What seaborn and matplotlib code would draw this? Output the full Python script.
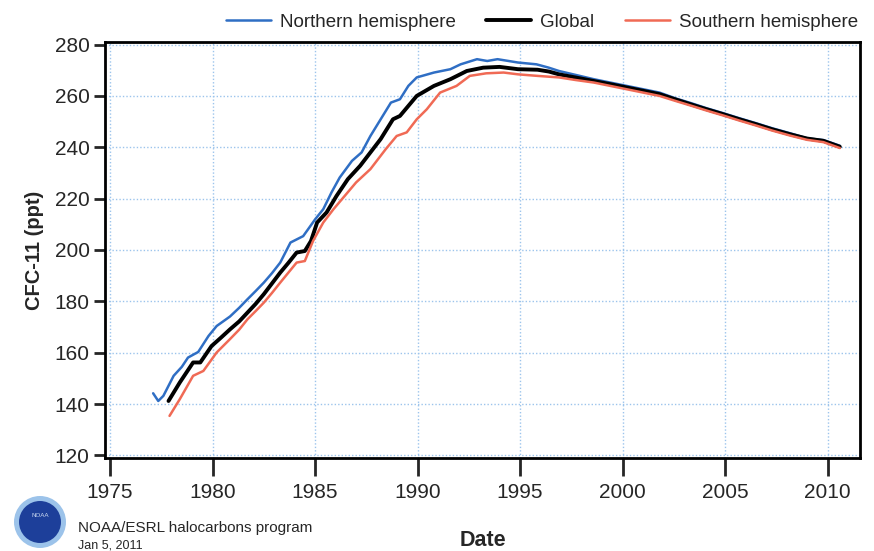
import pandas as pd
import matplotlib.pyplot as plt
import seaborn as sns
from matplotlib.patches import Ellipse

# ===== Данные =====
nh_years = [1977.1, 1977.35, 1977.6, 1978.1, 1978.5, 1978.8, 1979.3, 1979.8, 1980.2, 1980.85,
            1981.3, 1981.7, 1982.1, 1982.5, 1982.9, 1983.3, 1983.8, 1984.42, 1985.0, 1985.4,
            1985.8, 1986.2, 1986.8, 1987.27, 1987.7, 1988.2, 1988.7, 1989.14, 1989.55, 1989.96,
            1990.8, 1991.6, 1992.1, 1992.9, 1993.4, 1993.9, 1994.9, 1995.8, 1996.4, 1996.9,
            1997.7, 1998.6, 1999.4, 2000.2, 2001.0, 2001.8, 2002.6, 2003.3, 2004.1, 2004.9,
            2005.7, 2006.5, 2007.3, 2008.2, 2009.0, 2009.8, 2010.6]
nh_cfc = [144.2, 141.2, 143.2, 151.0, 154.5, 158.1, 160.3, 166.5, 170.4, 174.1,
          177.5, 180.8, 184.0, 187.3, 191.0, 195.1, 202.9, 205.4, 211.9, 215.9,
          222.4, 228.2, 234.7, 238.0, 244.4, 250.9, 257.4, 258.7, 263.9, 267.2,
          269.1, 270.4, 272.3, 274.3, 273.6, 274.3, 273.0, 272.3, 271.0, 269.7,
          268.2, 266.5, 265.2, 263.9, 262.6, 261.3, 259.0, 257.3, 255.2, 253.3,
          251.3, 249.4, 247.4, 245.4, 243.5, 242.8, 240.6]

gl_years = [1977.85, 1978.4, 1979.05, 1979.4, 1979.95, 1980.4, 1980.85, 1981.3, 1981.7, 1982.1,
            1982.5, 1982.9, 1983.3, 1983.7, 1984.1, 1984.5, 1984.8, 1985.1, 1985.56, 1986.05,
            1986.6, 1987.2, 1987.7, 1988.2, 1988.8, 1989.14, 1989.96, 1990.8, 1991.6, 1992.4,
            1993.2, 1994.0, 1994.9, 1995.85, 1996.4, 1996.9, 1997.7, 1998.6, 1999.4, 2000.2,
            2001.0, 2001.8, 2002.6, 2003.3, 2004.1, 2004.9, 2005.7, 2006.5, 2007.3, 2008.2,
            2009.0, 2009.8, 2010.6]
gl_cfc = [141.2, 148.4, 156.2, 156.2, 162.6, 165.8, 169.1, 172.2, 175.6, 179.0,
          182.8, 187.0, 191.2, 195.0, 199.0, 199.6, 203.5, 210.7, 214.6, 221.1,
          227.6, 232.8, 238.0, 243.2, 250.9, 252.2, 260.0, 263.9, 266.5, 269.7,
          271.0, 271.3, 270.4, 270.2, 269.5, 268.4, 267.2, 265.8, 264.6, 263.3,
          262.0, 260.7, 258.6, 256.8, 254.8, 252.9, 250.9, 249.0, 247.0, 245.0,
          243.4, 242.5, 240.2]

sh_years = [1977.9, 1978.4, 1979.05, 1979.55, 1980.2, 1980.85, 1981.3, 1981.7, 1982.1, 1982.5,
            1982.9, 1983.3, 1983.7, 1984.1, 1984.5, 1984.9, 1985.4, 1985.9, 1986.45, 1987.0,
            1987.7, 1988.45, 1988.98, 1989.47, 1989.96, 1990.45, 1991.1, 1991.9, 1992.55, 1993.35,
            1994.2, 1994.9, 1995.85, 1996.9, 1997.7, 1998.6, 1999.4, 2000.2, 2001.0, 2001.8,
            2002.6, 2003.3, 2004.1, 2004.9, 2005.7, 2006.5, 2007.3, 2008.2, 2009.0, 2009.8,
            2010.6]
sh_cfc = [135.4, 141.9, 151.0, 152.9, 160.1, 165.3, 169.0, 173.0, 176.2, 179.5,
          183.3, 187.3, 191.2, 195.1, 195.7, 203.5, 210.7, 215.9, 221.1, 226.3,
          231.5, 239.3, 244.4, 245.8, 250.9, 254.8, 261.3, 263.9, 267.8, 268.8,
          269.1, 268.4, 267.8, 267.2, 266.2, 265.2, 263.9, 262.6, 261.3, 260.0,
          258.0, 256.3, 254.3, 252.4, 250.4, 248.5, 246.5, 244.5, 242.9, 242.0,
          239.7]

x_ticks = [1975, 1980, 1985, 1990, 1995, 2000, 2005, 2010]
y_ticks = [120, 140, 160, 180, 200, 220, 240, 260, 280]

sns.set_style("white")
plt.rcParams["font.family"] = ["Liberation Sans", "DejaVu Sans"]

fig = plt.figure(figsize=(8.74, 5.51), dpi=100)
ax = fig.add_axes([0.1201, 0.1688, 0.8638, 0.755])

sns.lineplot(x=nh_years, y=nh_cfc, ax=ax, color="#2f6ec4", linewidth=1.8, label="Northern hemisphere")
sns.lineplot(x=gl_years, y=gl_cfc, ax=ax, color="black", linewidth=2.8, label="Global")
sns.lineplot(x=sh_years, y=sh_cfc, ax=ax, color="#f06a55", linewidth=1.8, label="Southern hemisphere")

ax.set_xlim(1974.75, 2011.58)
ax.set_ylim(119.0, 281.0)
ax.set_xticks(x_ticks)
ax.set_yticks(y_ticks)
ax.grid(True, color="#9cc4ec", linestyle=(0, (1, 1.5)), linewidth=1.0)

for sp in ax.spines.values():
    sp.set_visible(True)
    sp.set_color("black")
    sp.set_linewidth(2.0)

ax.tick_params(axis="y", direction="out", length=8, width=2, labelsize=15, pad=3, left=True)
ax.tick_params(axis="x", direction="out", length=13, width=2, labelsize=15, pad=5, bottom=True)

ax.set_ylabel("CFC-11 (ppt)", fontsize=14.5, fontweight="bold", labelpad=8)
ax.set_xlabel("Date", fontsize=15.5, fontweight="bold", labelpad=20)

ax.legend(loc="lower right", bbox_to_anchor=(1.01, 1.005), ncol=3, frameon=False,
          fontsize=13.5, handlelength=2.4, handletextpad=0.5, columnspacing=1.6,
          borderaxespad=0.1)

# логотип NOAA (упрощённо) и подпись
cx, cy = 40 / 874, 1 - 522 / 551
fig.patches.append(Ellipse((cx, cy), 52 / 874, 52 / 551, transform=fig.transFigure,
                           facecolor="#9cc3ea", edgecolor="none"))
fig.patches.append(Ellipse((cx, cy), 42 / 874, 42 / 551, transform=fig.transFigure,
                           facecolor="#1d3f9a", edgecolor="none"))
fig.text(cx, cy + 0.012, "NOAA", fontsize=4.5, color="#c9d8f0", ha="center", va="center")
fig.text(78 / 874, 1 - 528 / 551, "NOAA/ESRL halocarbons program", fontsize=11, va="center")
fig.text(78 / 874, 1 - 545 / 551, "Jan 5, 2011", fontsize=9, va="center")

fig.savefig("out.png", dpi=100)
